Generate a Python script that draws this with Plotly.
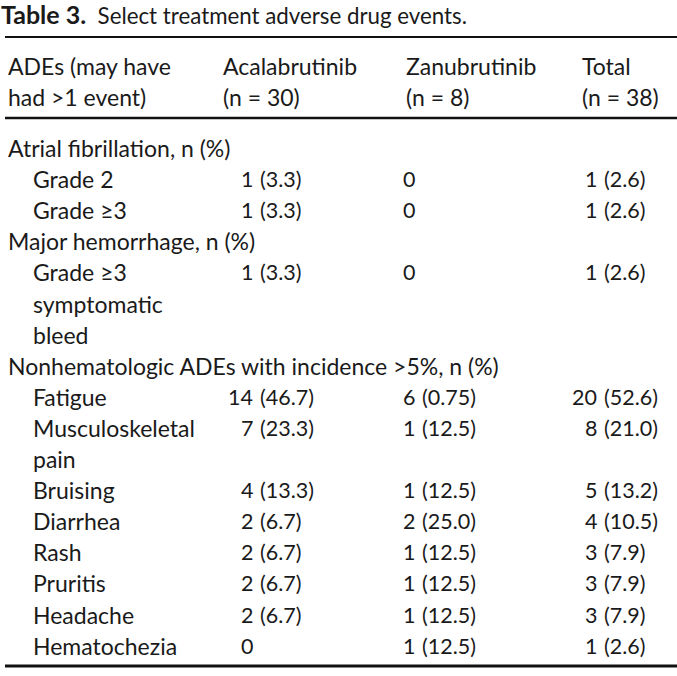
import plotly.graph_objects as go

# ---------------- data ----------------
title_bold = "Table 3."
title_rest = "Select treatment adverse drug events."

header_line1 = ["ADEs (may have", "Acalabrutinib", "Zanubrutinib", "Total"]
header_line2 = ["had >1 event)", "(n = 30)", "(n = 8)", "(n = 38)"]

row_labels = [
    "Atrial fibrillation, n (%)", "Grade 2", "Grade ≥3",
    "Major hemorrhage, n (%)", "Grade ≥3", "symptomatic", "bleed",
    "Nonhematologic ADEs with incidence >5%, n (%)",
    "Fatigue", "Musculoskeletal", "pain", "Bruising", "Diarrhea",
    "Rash", "Pruritis", "Headache", "Hematochezia",
]
row_indent = [0, 1, 1, 0, 1, 1, 1, 0, 1, 1, 1, 1, 1, 1, 1, 1, 1]

acalabrutinib = ["", "1 (3.3)", "1 (3.3)", "", "1 (3.3)", "", "", "",
                 "14 (46.7)", "7 (23.3)", "", "4 (13.3)", "2 (6.7)",
                 "2 (6.7)", "2 (6.7)", "2 (6.7)", "0"]
zanubrutinib = ["", "0", "0", "", "0", "", "", "",
                "6 (0.75)", "1 (12.5)", "", "1 (12.5)", "2 (25.0)",
                "1 (12.5)", "1 (12.5)", "1 (12.5)", "1 (12.5)"]
total = ["", "1 (2.6)", "1 (2.6)", "", "1 (2.6)", "", "", "",
         "20 (52.6)", "8 (21.0)", "", "5 (13.2)", "4 (10.5)",
         "3 (7.9)", "3 (7.9)", "3 (7.9)", "1 (2.6)"]

# ---------------- layout constants ----------------
W, H = 677, 676
FONT = "Lato, 'DejaVu Sans', sans-serif"
FS = 23.0                     # text size
FV = 21.5                     # value size
header_x = [7, 222, 405, 581]
paren_x = [259, 421, 603]     # x where "(" starts in each value column
label_x, indent_x = 7, 32
row_y0, row_dy = 148, 31.1
head_y1, head_y2 = 66, 97


def px_x(x):
    return x / W


def px_y(y):
    return 1 - y / H


fig = go.Figure()
ann = []


def txt(x, y, s, anchor="left", size=FS, color="#1a1a1a"):
    ann.append(dict(x=px_x(x), y=px_y(y), xref="paper", yref="paper", text=s,
                    showarrow=False, xanchor=anchor, yanchor="middle",
                    borderpad=0,
                    font=dict(family=FONT, size=size, color=color)))


# title
txt(0, 14, f"<b><span style='font-size:25px'>{title_bold}</span></b>  {title_rest}",
    size=22.3)

# header
for x, s1, s2 in zip(header_x, header_line1, header_line2):
    txt(x, head_y1, s1)
    txt(x, head_y2, s2)

# body
for i, (lab, ind) in enumerate(zip(row_labels, row_indent)):
    y = row_y0 + i * row_dy
    txt(indent_x if ind else label_x, y, lab)
    for px, col in zip(paren_x, [acalabrutinib, zanubrutinib, total]):
        v = col[i]
        if not v:
            continue
        if " " in v:
            cnt, pct = v.split(" ", 1)
            txt(px - 5, y, cnt, anchor="right", size=FV)
            txt(px, y, pct, anchor="left", size=FV)
        else:
            txt(px - 5, y, v, anchor="right", size=FV)


# rules
def rule(y, w):
    return dict(type="line", xref="paper", yref="paper",
                x0=px_x(5), x1=px_x(W), y0=px_y(y), y1=px_y(y),
                line=dict(color="#111", width=w))


shapes = [rule(37, 2), rule(118, 2.5), rule(666, 3)]

fig.update_layout(
    width=W, height=H,
    margin=dict(l=0, r=0, t=0, b=0),
    paper_bgcolor="white", plot_bgcolor="white",
    xaxis=dict(visible=False, fixedrange=True),
    yaxis=dict(visible=False, fixedrange=True),
    annotations=ann, shapes=shapes, showlegend=False,
)

fig.write_html(
    "out.html",
    config={"displayModeBar": False},
    post_script="document.body.style.margin='0';document.body.style.overflow='hidden';",
)
